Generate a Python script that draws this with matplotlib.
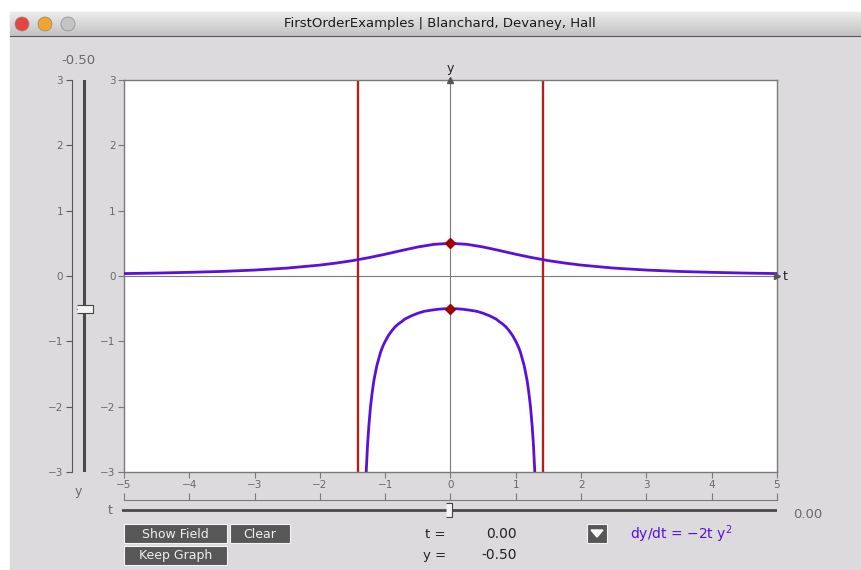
import matplotlib.pyplot as plt
import numpy as np
from matplotlib.patches import Rectangle, Circle, Polygon

W, H = 862, 570

# solution through (0, 0.5)
t_upper = [-5, -4.5, -4, -3.5, -3, -2.5, -2, -1.75, -1.5, -1.25, -1, -0.75, -0.5, -0.25, 0,
           0.25, 0.5, 0.75, 1, 1.25, 1.5, 1.75, 2, 2.5, 3, 3.5, 4, 4.5, 5]
y_upper = [0.037, 0.045, 0.056, 0.070, 0.091, 0.121, 0.167, 0.198, 0.235, 0.281, 0.333, 0.390, 0.444, 0.485, 0.5,
           0.485, 0.444, 0.390, 0.333, 0.281, 0.235, 0.198, 0.167, 0.121, 0.091, 0.070, 0.056, 0.045, 0.037]

# solution through (0, -0.5), blows up near t = +-1.41
t_lower = [-1.291, -1.27, -1.25, -1.225, -1.2, -1.175, -1.15, -1.125, -1.1, -1.075, -1.05, -1.025, -1.0,
           -0.95, -0.9, -0.85, -0.8, -0.75, -0.7, -0.6, -0.5, -0.4, -0.3, -0.2, -0.1, 0,
           0.1, 0.2, 0.3, 0.4, 0.5, 0.6, 0.7, 0.75, 0.8, 0.85, 0.9, 0.95,
           1.0, 1.025, 1.05, 1.075, 1.1, 1.125, 1.15, 1.175, 1.2, 1.225, 1.25, 1.27, 1.291]
y_lower = [-3.0, -2.58, -2.29, -2.0, -1.79, -1.61, -1.48, -1.36, -1.27, -1.18, -1.11, -1.05, -1.0,
           -0.91, -0.84, -0.78, -0.735, -0.70, -0.66, -0.61, -0.57, -0.54, -0.524, -0.51, -0.502, -0.5,
           -0.502, -0.51, -0.524, -0.54, -0.57, -0.61, -0.66, -0.70, -0.735, -0.78, -0.84, -0.91,
           -1.0, -1.05, -1.11, -1.18, -1.27, -1.36, -1.48, -1.61, -1.79, -2.0, -2.29, -2.58, -3.0]

blowup_t = [-1.414, 1.414]
init_t = [0, 0]
init_y = [0.5, -0.5]
t_ticks = [-5, -4, -3, -2, -1, 0, 1, 2, 3, 4, 5]
y_ticks = [-3, -2, -1, 0, 1, 2, 3]
t_now, y_now = 0.0, -0.5

BG = '#dcdadc'
GREY = '#6a6a6a'
PURPLE = '#5a10d8'
RED = '#b3201c'


def fr(x0, y0, x1, y1):
    # pixel box -> figure rect
    return [x0 / W, 1 - y1 / H, (x1 - x0) / W, (y1 - y0) / H]


fig = plt.figure(figsize=(W / 100, H / 100), dpi=100)
fig.patch.set_facecolor('white')

# window chrome drawn in pixel coordinates
bg = fig.add_axes([0, 0, 1, 1])
bg.set_xlim(0, W)
bg.set_ylim(H, 0)
bg.axis('off')
bg.add_patch(Rectangle((10, 12), W - 10, H - 12, color=BG, zorder=0))
grad = np.linspace(0, 1, 50).reshape(-1, 1)
bg.imshow(grad, cmap=plt.matplotlib.colors.LinearSegmentedColormap.from_list('bar', ['#ececec', '#c2c2c2']),
          extent=(10, W, 36, 12), aspect='auto', zorder=1)
bg.plot([10, W], [36, 36], color='#585858', lw=0.8, zorder=2)
for cx, col in [(22, '#e2463f'), (45, '#f2a42c'), (68, '#c4c4c4')]:
    bg.add_patch(Circle((cx, 24), 7, facecolor=col, edgecolor='#8a8a8a', lw=0.5, zorder=3))
bg.text(440, 24, 'FirstOrderExamples | Blanchard, Devaney, Hall', ha='center', va='center',
        fontsize=9.5, color='#1a1a1a', zorder=3)
bg.set_xlim(0, W)
bg.set_ylim(H, 0)

bg.text(78, 60, '-0.50', ha='center', va='center', fontsize=9.5, color=GREY)
bg.text(78, 492, 'y', ha='center', va='center', fontsize=9, color=GREY)
bg.text(110, 511, 't', ha='center', va='center', fontsize=9, color=GREY)
bg.text(808, 515, '0.00', ha='center', va='center', fontsize=9.5, color=GREY)

# buttons
for (x0, y0, x1, y1, lab) in [(124, 524, 227, 543, 'Show Field'), (230, 524, 290, 543, 'Clear'),
                              (124, 546, 227, 565, 'Keep Graph')]:
    bg.add_patch(Rectangle((x0, y0), x1 - x0, y1 - y0, facecolor='#575757', edgecolor='#f4f4f4', lw=0.8))
    bg.text((x0 + x1) / 2, (y0 + y1) / 2 + 0.5, lab, ha='center', va='center', fontsize=9, color='#f0f0f0')

bg.text(446, 534, 't =', ha='right', va='center', fontsize=9.5, color='#222222')
bg.text(446, 555, 'y =', ha='right', va='center', fontsize=9.5, color='#222222')
bg.text(517, 534, f'{t_now:.2f}', ha='right', va='center', fontsize=10, color='#222222')
bg.text(517, 555, f'{y_now:.2f}', ha='right', va='center', fontsize=10, color='#222222')

bg.add_patch(Rectangle((587, 524), 20, 19, facecolor='#575757', edgecolor='#f4f4f4', lw=0.8))
bg.add_patch(Polygon([(591, 530), (603, 530), (597, 537)], color='white'))
bg.text(630, 534, 'dy/dt = −2t y$^{2}$', ha='left', va='center', fontsize=10, color=PURPLE)

# main phase plot
ax = fig.add_axes(fr(124, 80, 777, 472))
ax.set_facecolor('white')
ax.set_xlim(-5, 5)
ax.set_ylim(-3, 3)
for s in ax.spines.values():
    s.set_color('#7a7a7a')
    s.set_linewidth(1.0)
ax.set_xticks(t_ticks)
ax.set_yticks(y_ticks)
ax.tick_params(direction='out', length=4.5, width=0.8, colors='#7a7a7a', labelcolor=GREY,
               labelsize=7.5, pad=1.5)
ax.axhline(0, color='#7a7a7a', lw=0.8, zorder=1)
ax.axvline(0, color='#7a7a7a', lw=0.8, zorder=1)
ax.plot([5], [0], marker='>', ms=4, color='#555555', clip_on=False, zorder=5)
ax.plot([0], [3], marker='^', ms=4, color='#555555', clip_on=False, zorder=5)
ax.text(5.08, 0, 't', ha='left', va='center', fontsize=9, color='#222222')
ax.text(0, 3.08, 'y', ha='center', va='bottom', fontsize=9, color='#222222')

for tb in blowup_t:
    ax.axvline(tb, color=RED, lw=1.7, zorder=2)
ax.plot(t_upper, y_upper, color=PURPLE, lw=2.0, zorder=3)
ax.plot(t_lower, y_lower, color=PURPLE, lw=2.0, zorder=3)
ax.plot(init_t, init_y, linestyle='none', marker='D', ms=5.5, color='#a00000',
        markeredgecolor='#a00000', zorder=4)

# left y axis copy
axl = fig.add_axes(fr(72, 80, 73, 472))
axl.set_ylim(-3, 3)
axl.set_xticks([])
axl.set_yticks(y_ticks)
axl.patch.set_visible(False)
for k in ['top', 'right', 'bottom']:
    axl.spines[k].set_visible(False)
axl.spines['left'].set_color('#5a5a5a')
axl.tick_params(axis='y', direction='out', length=4.5, width=0.8, colors='#5a5a5a', labelcolor=GREY,
                labelsize=7.5, pad=2)

# left y slider
axs = fig.add_axes(fr(76, 80, 92, 472))
axs.set_xlim(-1, 1)
axs.set_ylim(-3, 3)
axs.axis('off')
axs.axvline(0, color='#4a4a4a', lw=2.2)
axs.plot([-0.9, 0.2], [y_now, y_now], color='#222222', lw=0.9, zorder=3)
axs.plot([0.1], [y_now], marker=[(-2, -1), (2, -1), (2, 1), (-2, 1)], ms=11, color='#f4f4f4',
         markeredgecolor='#444444', mew=0.8, zorder=4, clip_on=False)

# t bracket with upward ticks
axb = fig.add_axes(fr(124, 494, 777, 500))
axb.set_xlim(-5, 5)
axb.patch.set_visible(False)
for k in ['top', 'right', 'left']:
    axb.spines[k].set_visible(False)
axb.spines['bottom'].set_color('#7a7a7a')
axb.set_yticks([])
axb.set_xticks(t_ticks)
axb.tick_params(axis='x', direction='in', length=5, width=0.8, colors='#7a7a7a', labelbottom=False)

# t slider
axt = fig.add_axes(fr(122, 505, 777, 515))
axt.set_xlim(-5, 5)
axt.set_ylim(-1, 1)
axt.axis('off')
axt.axhline(0, color='#4a4a4a', lw=2.0)
axt.plot([t_now, t_now], [0, 1.4], color='#222222', lw=0.9, clip_on=False, zorder=3)
axt.plot([t_now], [0], marker=[(-1, -2), (1, -2), (1, 2), (-1, 2)], ms=10, color='#f4f4f4',
         markeredgecolor='#444444', mew=0.8, zorder=4, clip_on=False)

fig.savefig('out.png', dpi=100, facecolor=fig.get_facecolor())
